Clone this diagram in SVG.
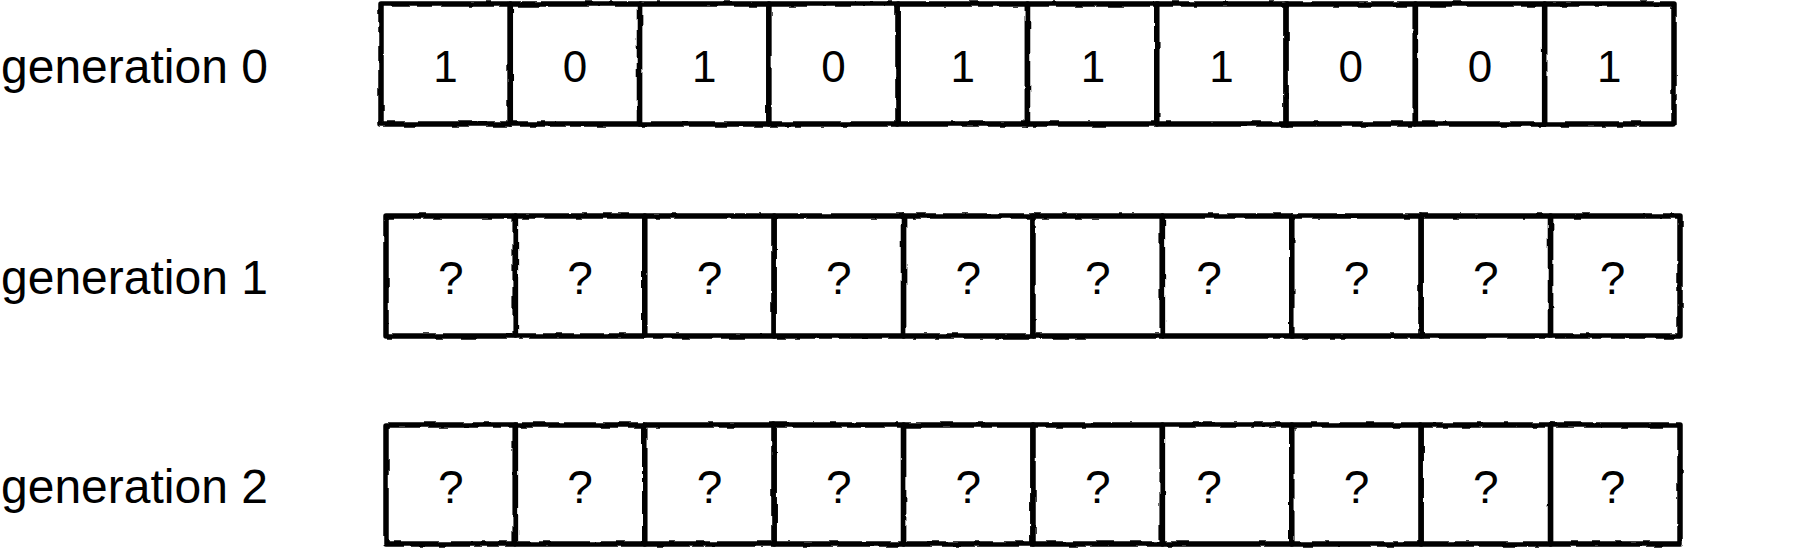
<svg xmlns="http://www.w3.org/2000/svg" width="1800" height="548" viewBox="0 0 1800 548">
<defs>
<style>
.cell{fill:#fff;stroke:#000;stroke-width:5.5;stroke-linejoin:round}
.lbl{font-family:"Liberation Sans",Arial,sans-serif;font-size:48px;fill:#000}
.v{font-family:"Liberation Sans",Arial,sans-serif;font-size:44px;fill:#000;text-anchor:middle}
.q{font-family:"Liberation Sans",Arial,sans-serif;font-size:46px;fill:#000;text-anchor:middle}
</style>
<filter id="wob" filterUnits="userSpaceOnUse" x="0" y="0" width="1800" height="548">
<feTurbulence type="fractalNoise" baseFrequency="0.06" numOctaves="2" seed="3" result="n"/>
<feDisplacementMap in="SourceGraphic" in2="n" scale="3" xChannelSelector="R" yChannelSelector="G"/>
</filter>
</defs>
<rect width="1800" height="548" fill="#fff"/>
<g id="labels">
<text id="label-gen0" class="lbl" x="1" y="83">generation 0</text>
<text id="label-gen1" class="lbl" x="1" y="294">generation 1</text>
<text id="label-gen2" class="lbl" x="1" y="503">generation 2</text>
</g>
<g id="row0">
<g id="g0c0"><rect class="cell" x="381" y="4" width="129.3" height="120" filter="url(#wob)"/><text class="v" x="445.6" y="82">1</text></g>
<g id="g0c1"><rect class="cell" x="510.3" y="4" width="129.3" height="120" filter="url(#wob)"/><text class="v" x="575" y="82">0</text></g>
<g id="g0c2"><rect class="cell" x="639.6" y="4" width="129.3" height="120" filter="url(#wob)"/><text class="v" x="704.2" y="82">1</text></g>
<g id="g0c3"><rect class="cell" x="768.9" y="4" width="129.3" height="120" filter="url(#wob)"/><text class="v" x="833.5" y="82">0</text></g>
<g id="g0c4"><rect class="cell" x="898.2" y="4" width="129.3" height="120" filter="url(#wob)"/><text class="v" x="962.8" y="82">1</text></g>
<g id="g0c5"><rect class="cell" x="1027.5" y="4" width="129.3" height="120" filter="url(#wob)"/><text class="v" x="1093" y="82">1</text></g>
<g id="g0c6"><rect class="cell" x="1156.8" y="4" width="129.3" height="120" filter="url(#wob)"/><text class="v" x="1221.4" y="82">1</text></g>
<g id="g0c7"><rect class="cell" x="1286.1" y="4" width="129.3" height="120" filter="url(#wob)"/><text class="v" x="1350.7" y="82">0</text></g>
<g id="g0c8"><rect class="cell" x="1415.4" y="4" width="129.3" height="120" filter="url(#wob)"/><text class="v" x="1480" y="82">0</text></g>
<g id="g0c9"><rect class="cell" x="1544.7" y="4" width="129.3" height="120" filter="url(#wob)"/><text class="v" x="1609.3" y="82">1</text></g>
</g>
<g id="row1">
<g id="g1c0"><rect class="cell" x="386" y="216" width="129.4" height="120" filter="url(#wob)"/><text class="q" x="450.7" y="294">?</text></g>
<g id="g1c1"><rect class="cell" x="515.4" y="216" width="129.4" height="120" filter="url(#wob)"/><text class="q" x="580.1" y="294">?</text></g>
<g id="g1c2"><rect class="cell" x="644.8" y="216" width="129.4" height="120" filter="url(#wob)"/><text class="q" x="709.5" y="294">?</text></g>
<g id="g1c3"><rect class="cell" x="774.2" y="216" width="129.4" height="120" filter="url(#wob)"/><text class="q" x="838.9" y="294">?</text></g>
<g id="g1c4"><rect class="cell" x="903.6" y="216" width="129.4" height="120" filter="url(#wob)"/><text class="q" x="968.3" y="294">?</text></g>
<g id="g1c5"><rect class="cell" x="1033" y="216" width="129.4" height="120" filter="url(#wob)"/><text class="q" x="1097.7" y="294">?</text></g>
<g id="g1c6"><rect class="cell" x="1162.4" y="216" width="129.4" height="120" filter="url(#wob)"/><text class="q" x="1209" y="294">?</text></g>
<g id="g1c7"><rect class="cell" x="1291.8" y="216" width="129.4" height="120" filter="url(#wob)"/><text class="q" x="1356.5" y="294">?</text></g>
<g id="g1c8"><rect class="cell" x="1421.2" y="216" width="129.4" height="120" filter="url(#wob)"/><text class="q" x="1485.9" y="294">?</text></g>
<g id="g1c9"><rect class="cell" x="1550.6" y="216" width="129.4" height="120" filter="url(#wob)"/><text class="q" x="1612.5" y="294">?</text></g>
</g>
<g id="row2">
<g id="g2c0"><rect class="cell" x="386" y="425" width="129.4" height="119" filter="url(#wob)"/><text class="q" x="450.7" y="503">?</text></g>
<g id="g2c1"><rect class="cell" x="515.4" y="425" width="129.4" height="119" filter="url(#wob)"/><text class="q" x="580.1" y="503">?</text></g>
<g id="g2c2"><rect class="cell" x="644.8" y="425" width="129.4" height="119" filter="url(#wob)"/><text class="q" x="709.5" y="503">?</text></g>
<g id="g2c3"><rect class="cell" x="774.2" y="425" width="129.4" height="119" filter="url(#wob)"/><text class="q" x="838.9" y="503">?</text></g>
<g id="g2c4"><rect class="cell" x="903.6" y="425" width="129.4" height="119" filter="url(#wob)"/><text class="q" x="968.3" y="503">?</text></g>
<g id="g2c5"><rect class="cell" x="1033" y="425" width="129.4" height="119" filter="url(#wob)"/><text class="q" x="1097.7" y="503">?</text></g>
<g id="g2c6"><rect class="cell" x="1162.4" y="425" width="129.4" height="119" filter="url(#wob)"/><text class="q" x="1209" y="503">?</text></g>
<g id="g2c7"><rect class="cell" x="1291.8" y="425" width="129.4" height="119" filter="url(#wob)"/><text class="q" x="1356.5" y="503">?</text></g>
<g id="g2c8"><rect class="cell" x="1421.2" y="425" width="129.4" height="119" filter="url(#wob)"/><text class="q" x="1485.9" y="503">?</text></g>
<g id="g2c9"><rect class="cell" x="1550.6" y="425" width="129.4" height="119" filter="url(#wob)"/><text class="q" x="1612.5" y="503">?</text></g>
</g>
</svg>
